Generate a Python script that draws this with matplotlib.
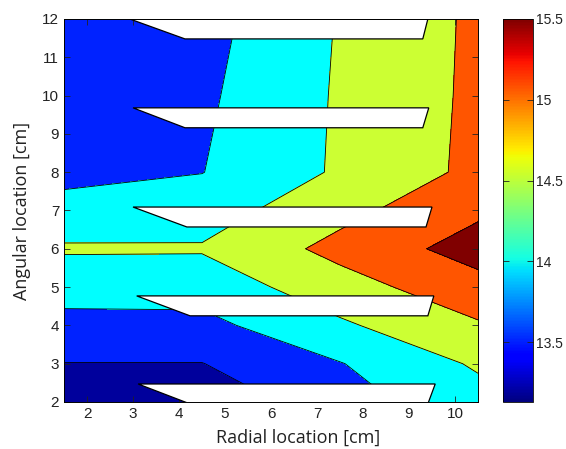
import numpy as np
import matplotlib
matplotlib.use("Agg")
import matplotlib.pyplot as plt
from matplotlib.patches import Polygon
from matplotlib.colors import Normalize

radial = [1.5, 4.5, 7.5, 10.5]
angular = [2, 3, 4, 5, 6, 7, 8, 10, 12]
temp = [
    [13.13, 13.12, 13.74, 14.20],
    [13.45, 13.45, 13.90, 14.44],
    [13.78, 13.79, 14.31, 14.79],
    [14.10, 14.11, 14.65, 15.14],
    [14.43, 14.42, 14.98, 15.49],
    [14.10, 14.17, 14.70, 15.22],
    [13.77, 13.91, 14.44, 14.95],
    [13.69, 13.84, 14.43, 14.93],
    [13.67, 13.76, 14.41, 14.92],
]
levels = [13.0, 13.46, 13.92, 14.38, 14.84, 15.30, 15.6]
band_colors = ["#00009C", "#0022FF", "#00FFFF", "#CCFF33", "#FF5500", "#800000"]

# fins (white blocks): top edge y, left tip x, left bottom x, right top x, right bottom x
fin_top = [12.0, 9.68, 7.09, 4.77, 2.47]
fin_tip = [2.93, 3.00, 3.00, 3.08, 3.11]
fin_low = [4.13, 4.13, 4.17, 4.24, 4.24]
fin_rt = [9.41, 9.43, 9.50, 9.54, 9.57]
fin_rb = [9.30, 9.30, 9.37, 9.41, 9.41]
fin_h = 0.52

fig = plt.figure(figsize=(5.66, 4.49), dpi=100)
ax = fig.add_axes([0.1131, 0.1047, 0.7314, 0.853])
cax = fig.add_axes([0.8887, 0.1047, 0.053, 0.853])

X, Y = np.meshgrid(radial, angular)
Z = np.array(temp)
ax.contourf(X, Y, Z, levels=levels, colors=band_colors)
ax.contour(X, Y, Z, levels=levels[1:-1], colors="k", linewidths=0.6)

for top, tip, low, rt, rb in zip(fin_top, fin_tip, fin_low, fin_rt, fin_rb):
    pts = [(tip, top), (rt, top), (rb, top - fin_h), (low, top - fin_h)]
    ax.add_patch(Polygon(pts, closed=True, facecolor="white",
                         edgecolor="black", linewidth=0.9, zorder=3))

ax.set_xlim(1.5, 10.5)
ax.set_ylim(2, 12)
ax.set_xticks(range(2, 11))
ax.set_yticks(range(2, 13))
ax.tick_params(direction="in", top=True, right=True, labelsize=11,
               length=4, width=0.6, colors="#222222", labelcolor="#222222")
for sp in ax.spines.values():
    sp.set_linewidth(0.7)
    sp.set_zorder(4)
ax.set_xlabel("Radial location [cm]", fontsize=13, family="Open Sans",
              color="#222222")
ax.set_ylabel("Angular location [cm]", fontsize=13, family="Open Sans",
              color="#222222")
ax.xaxis.set_label_coords(0.565, -0.07)
ax.yaxis.set_label_coords(-0.08, 0.5)

norm = Normalize(vmin=13.13, vmax=15.5)
sm = matplotlib.cm.ScalarMappable(norm=norm, cmap="jet")
cb = fig.colorbar(sm, cax=cax)
cb.set_ticks([13.5, 14, 14.5, 15, 15.5])
cb.ax.set_yticklabels(["13.5", "14", "14.5", "15", "15.5"])
cax.tick_params(direction="in", left=True, right=True, length=4, width=0.6,
                labelsize=10, pad=2, colors="#222222", labelcolor="#222222")
cb.outline.set_linewidth(0.6)

for t in ax.get_xticklabels() + ax.get_yticklabels() + cax.get_yticklabels():
    t.set_family("Liberation Sans")

fig.savefig("out.png", dpi=100)
